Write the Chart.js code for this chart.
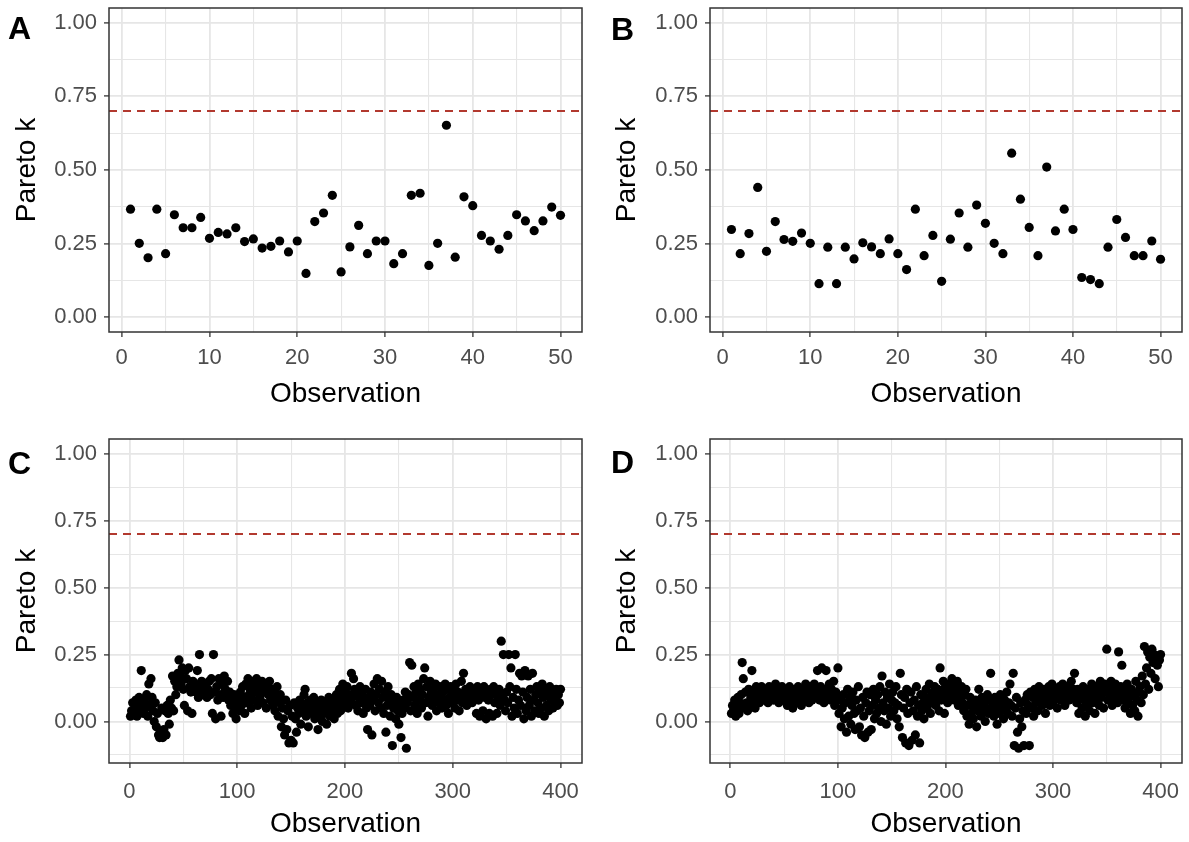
<!DOCTYPE html>
<html>
<head>
<meta charset="utf-8">
<script src="https://cdn.jsdelivr.net/npm/chart.js@4.4.0/dist/chart.umd.min.js"></script>
<style>
  body { margin: 0; background: #fff; width: 1189px; height: 842px; position: relative; overflow: hidden; font-family: "Liberation Sans", Arial, sans-serif; }
  canvas { position: absolute; }
  .tag { position: absolute; font-weight: bold; font-size: 32px; line-height: 32px; color: #000; }
</style>
</head>
<body>
<canvas id="chartA" width="595" height="421" style="left:0;top:0"></canvas>
<canvas id="chartB" width="594" height="421" style="left:595px;top:0"></canvas>
<canvas id="chartC" width="595" height="421" style="left:0;top:421px"></canvas>
<canvas id="chartD" width="594" height="421" style="left:595px;top:421px"></canvas>
<div class="tag" style="left:8px;top:12px">A</div>
<div class="tag" style="left:611px;top:13px">B</div>
<div class="tag" style="left:8px;top:447px">C</div>
<div class="tag" style="left:611px;top:446px">D</div>
<script>
// Pareto k per observation
const paretoA = [0.367, 0.251, 0.202, 0.367, 0.216, 0.348, 0.304, 0.304, 0.339, 0.268,
  0.288, 0.283, 0.304, 0.257, 0.266, 0.235, 0.241, 0.259, 0.222, 0.259,
  0.149, 0.325, 0.354, 0.414, 0.154, 0.239, 0.312, 0.216, 0.259, 0.259,
  0.182, 0.216, 0.414, 0.421, 0.176, 0.251, 0.652, 0.204, 0.409, 0.379,
  0.278, 0.259, 0.231, 0.278, 0.348, 0.327, 0.294, 0.327, 0.374, 0.346];

const paretoB = [0.298, 0.216, 0.284, 0.441, 0.224, 0.325, 0.264, 0.258, 0.286, 0.251,
  0.114, 0.238, 0.114, 0.238, 0.198, 0.253, 0.239, 0.216, 0.266, 0.216,
  0.162, 0.367, 0.209, 0.278, 0.122, 0.265, 0.354, 0.238, 0.381, 0.319,
  0.251, 0.216, 0.557, 0.401, 0.305, 0.209, 0.510, 0.293, 0.367, 0.298,
  0.135, 0.128, 0.114, 0.238, 0.332, 0.271, 0.209, 0.209, 0.259, 0.197];

const paretoC = [
  0.02, 0.04, 0.07, 0.03, 0.05, 0.08, 0.02, 0.06, 0.09, 0.04,
  0.19, 0.07, 0.03, 0.08, 0.05, 0.10, 0.02, 0.14, 0.06, 0.16,
  0.09, 0.04, 0.00, 0.07, -0.02, 0.03, -0.05, -0.06, -0.04, 0.05,
  -0.06, -0.03, 0.04, -0.05, 0.06, 0.03, -0.01, 0.08, 0.05, 0.17,
  0.04, 0.15, 0.10, 0.13, 0.18, 0.23, 0.17, 0.14, 0.20, 0.12,
  0.06, 0.19, 0.16, 0.04, 0.20, 0.13, 0.11, 0.03, 0.15, 0.12,
  0.14, 0.11, 0.19, 0.09, 0.25, 0.12, 0.15, 0.10, 0.13, 0.11,
  0.14, 0.09, 0.12, 0.15, 0.10, 0.16, 0.03, 0.25, 0.11, 0.01,
  0.13, 0.08, 0.16, 0.10, 0.02, 0.14, 0.09, 0.17, 0.12, 0.10,
  0.15, 0.08, 0.11, 0.06, 0.09, 0.03, 0.10, 0.07, 0.01, 0.05,
  0.08, 0.04, 0.11, 0.06, 0.13, 0.09, 0.03, 0.14, 0.07, 0.16,
  0.10, 0.12, 0.05, 0.15, 0.08, 0.13, 0.11, 0.16, 0.06, 0.14,
  0.09, 0.12, 0.15, 0.07, 0.11, 0.14, 0.05, 0.13, 0.10, 0.15,
  0.08, 0.12, 0.06, 0.11, 0.04, 0.09, 0.13, 0.02, 0.07, 0.10,
  -0.02, 0.05, 0.01, -0.05, 0.08, -0.03, 0.04, -0.08, 0.06, -0.07,
  0.02, -0.08, 0.07, 0.01, -0.04, 0.05, 0.03, 0.08, -0.01, 0.06,
  0.04, 0.10, 0.12, 0.02, 0.07, -0.02, 0.05, 0.08, 0.03, 0.06,
  0.09, 0.01, 0.04, 0.07, -0.03, 0.05, 0.02, 0.08, 0.00, 0.06,
  0.03, 0.07, -0.01, 0.05, 0.09, 0.02, 0.06, 0.04, 0.08, 0.01,
  0.05, 0.10, 0.03, 0.07, 0.12, 0.04, 0.09, 0.14, 0.06, 0.11,
  0.08, 0.13, 0.05, 0.10, 0.07, 0.18, 0.09, 0.16, 0.12, 0.06,
  0.11, 0.04, 0.09, 0.13, 0.07, 0.10, 0.03, 0.08, 0.12, 0.05,
  -0.03, 0.09, 0.06, 0.11, -0.05, 0.08, 0.14, 0.04, 0.10, 0.16,
  0.07, 0.12, 0.05, 0.15, 0.09, 0.03, 0.11, -0.04, 0.06, 0.13,
  0.08, 0.02, 0.10, -0.09, 0.05, 0.07, 0.01, 0.09, 0.04, -0.01,
  0.06, -0.06, 0.03, 0.08, 0.05, 0.11, -0.10, 0.07, 0.10, 0.22,
  0.04, 0.21, 0.09, 0.13, 0.06, 0.11, 0.03, 0.14, 0.08, 0.12,
  0.05, 0.10, 0.16, 0.20, 0.07, 0.13, 0.02, 0.09, 0.15, 0.11,
  0.06, 0.12, 0.08, 0.14, 0.04, 0.10, 0.07, 0.13, 0.09, 0.05,
  0.11, 0.08, 0.14, 0.06, 0.12, 0.03, 0.09, 0.13, 0.07, 0.10,
  0.12, 0.05, 0.14, 0.08, 0.11, 0.04, 0.10, 0.15, 0.07, 0.18,
  0.09, 0.12, 0.06, 0.11, 0.08, 0.13, 0.10, 0.07, 0.12, 0.09,
  0.11, 0.03, 0.13, 0.08, 0.02, 0.12, 0.10, 0.04, 0.13, 0.09,
  0.01, 0.11, 0.08, 0.03, 0.12, 0.10, 0.02, 0.13, 0.07, 0.11,
  0.03, 0.09, 0.12, 0.06, 0.30, 0.10, 0.25, 0.08, 0.04, 0.11,
  0.07, 0.25, 0.13, 0.20, 0.02, 0.09, 0.05, 0.25, 0.12, 0.03,
  0.08, 0.18, 0.06, 0.17, 0.11, 0.01, 0.19, 0.04, 0.09, 0.17,
  0.06, 0.12, 0.02, 0.18, 0.08, 0.04, 0.10, 0.13, 0.07, 0.03,
  0.11, 0.05, 0.14, 0.09, 0.02, 0.12, 0.06, 0.10, 0.04, 0.13,
  0.08, 0.11, 0.05, 0.09, 0.07, 0.12, 0.06, 0.10, 0.07, 0.12];

const paretoD = [
  0.03, 0.06, 0.04, 0.08, 0.02, 0.05, 0.09, 0.03, 0.07, 0.10,
  0.22, 0.16, 0.05, 0.11, 0.07, 0.04, 0.12, 0.06, 0.09, 0.19,
  0.08, 0.11, 0.05, 0.13, 0.09, 0.12, 0.07, 0.10, 0.13, 0.08,
  0.11, 0.09, 0.12, 0.10, 0.07, 0.13, 0.11, 0.09, 0.12, 0.08,
  0.10, 0.14, 0.09, 0.11, 0.07, 0.12, 0.10, 0.13, 0.08, 0.11,
  0.09, 0.12, 0.06, 0.10, 0.13, 0.08, 0.11, 0.05, 0.09, 0.12,
  0.10, 0.07, 0.13, 0.09, 0.11, 0.06, 0.12, 0.08, 0.10, 0.14,
  0.09, 0.12, 0.07, 0.11, 0.13, 0.08, 0.10, 0.14, 0.09, 0.12,
  0.19, 0.11, 0.08, 0.13, 0.20, 0.10, 0.07, 0.12, 0.19, 0.09,
  0.11, 0.14, 0.08, 0.12, 0.10, 0.15, 0.06, 0.11, 0.09, 0.20,
  0.03, 0.08, -0.02, 0.05, 0.10, 0.01, 0.07, -0.04, 0.12, 0.02,
  0.09, -0.01, 0.06, 0.11, 0.03, -0.03, 0.08, 0.04, 0.13, -0.02,
  0.05, -0.05, 0.09, 0.02, -0.06, 0.07, 0.11, -0.04, 0.04, 0.10,
  -0.03, 0.06, 0.12, 0.01, 0.08, 0.03, 0.10, 0.05, 0.13, 0.00,
  0.17, 0.07, 0.04, 0.11, -0.01, 0.09, 0.05, 0.14, 0.02, 0.08,
  0.11, 0.04, 0.07, 0.13, 0.01, 0.06, -0.02, 0.18, 0.10, -0.06,
  0.05, 0.09, -0.08, 0.12, 0.03, -0.09, 0.07, 0.11, -0.07, 0.04,
  0.08, -0.05, 0.13, 0.02, 0.06, -0.08, 0.10, 0.04, 0.07, 0.01,
  0.09, 0.12, 0.05, 0.08, 0.14, 0.03, 0.10, 0.07, 0.11, 0.13,
  0.06, 0.09, 0.12, 0.04, 0.20, 0.08, 0.11, 0.15, 0.03, 0.13,
  0.10, 0.07, 0.14, 0.11, 0.09, 0.16, 0.12, 0.08, 0.13, 0.10,
  0.15, 0.06, 0.11, 0.09, 0.13, 0.07, 0.04, 0.10, 0.12, 0.02,
  0.06, -0.01, 0.09, 0.03, 0.07, 0.01, 0.05, 0.08, -0.02, 0.04,
  0.12, 0.06, 0.02, 0.09, 0.04, 0.07, 0.00, 0.05, 0.10, 0.03,
  0.08, 0.18, 0.04, 0.06, 0.02, 0.09, 0.05, -0.01, 0.07, 0.03,
  0.10, 0.04, 0.06, 0.01, 0.08, 0.05, 0.11, 0.03, 0.07, 0.14,
  0.06, 0.02, 0.18, -0.09, 0.05, 0.09, -0.04, -0.10, 0.01, 0.07,
  -0.02, 0.04, -0.09, 0.08, 0.03, 0.10, 0.06, -0.09, 0.11, 0.05,
  0.09, 0.02, 0.12, 0.07, 0.10, 0.04, 0.13, 0.08, 0.11, 0.06,
  0.12, 0.09, 0.03, 0.11, 0.08, 0.13, 0.06, 0.10, 0.14, 0.07,
  0.11, 0.09, 0.12, 0.05, 0.10, 0.13, 0.08, 0.11, 0.14, 0.09,
  0.06, 0.12, 0.10, 0.13, 0.08, 0.11, 0.15, 0.09, 0.12, 0.18,
  0.10, 0.07, 0.12, 0.03, 0.09, 0.11, 0.05, 0.13, 0.08, 0.02,
  0.10, 0.06, 0.12, 0.04, 0.09, 0.14, 0.07, 0.11, 0.03, 0.08,
  0.13, 0.10, 0.06, 0.15, 0.09, 0.12, 0.05, 0.14, 0.11, 0.27,
  0.08, 0.13, 0.10, 0.15, 0.06, 0.12, 0.09, 0.14, 0.11, 0.07,
  0.26, 0.10, 0.13, 0.21, 0.08, 0.12, 0.05, 0.11, 0.14, 0.07,
  0.09, 0.03, 0.12, 0.06, 0.10, 0.04, 0.15, 0.08, 0.02, 0.11,
  0.13, 0.07, 0.17, 0.10, 0.28, 0.14, 0.20, 0.26, 0.12, 0.24,
  0.18, 0.27, 0.22, 0.25, 0.16, 0.24, 0.21, 0.13, 0.23, 0.25];

const threshold = 0.7;

const yMajor = [0, 0.25, 0.5, 0.75, 1];
const yMinor = [-0.125, 0.125, 0.375, 0.625, 0.875];
const yLabels = ["0.00", "0.25", "0.50", "0.75", "1.00"];
const xMajorSmall = [0, 10, 20, 30, 40, 50];
const xMinorSmall = [5, 15, 25, 35, 45];
const xMajorLarge = [0, 100, 200, 300, 400];
const xMinorLarge = [50, 150, 250, 350];

Chart.defaults.font.family = "'Liberation Sans', Arial, sans-serif";
Chart.defaults.animation = false;

const panelBorder = {
  id: "panelBorder",
  afterDraw(chart) {
    const { ctx, chartArea: a } = chart;
    ctx.save();
    ctx.strokeStyle = "#333333";
    ctx.lineWidth = 1.5;
    ctx.strokeRect(a.left, a.top, a.right - a.left, a.bottom - a.top);
    ctx.restore();
  }
};

function gridStyle(major) {
  const isMajor = v => major.some(m => Math.abs(m - v) < 1e-9);
  return {
    color: "#E6E6E6",
    lineWidth: ctx => (ctx.tick && isMajor(ctx.tick.value) ? 1.8 : 1.1),
    tickColor: ctx => (ctx.tick && isMajor(ctx.tick.value) ? "#333333" : "rgba(0,0,0,0)"),
    tickWidth: ctx => (ctx.tick && isMajor(ctx.tick.value) ? 1.3 : 0),
    tickLength: 5,
  };
}

function makeChart(id, values, cfg) {
  const canvas = document.getElementById(id);
  const n = values.length;
  const xMin = 1 - 0.05 * (n - 1);
  const xMax = n + 0.05 * (n - 1);
  const lo = Math.min(0, ...values);
  const hi = 1;
  const yMin = lo - 0.05 * (hi - lo);
  const yMax = hi + 0.05 * (hi - lo);
  const p = cfg.plot;
  const yTicks = yMajor.concat(yMinor).filter(v => v >= yMin && v <= yMax).sort((a, b) => a - b);
  const xTicks = cfg.xMajor.concat(cfg.xMinor).sort((a, b) => a - b);

  return new Chart(canvas, {
    type: "scatter",
    data: {
      datasets: [
        {
          type: "line",
          data: [{ x: xMin, y: threshold }, { x: xMax, y: threshold }],
          borderColor: "#B2392F",
          borderWidth: 2,
          borderDash: [8, 6],
          pointRadius: 0,
          fill: false,
        },
        {
          data: values.map((k, i) => ({ x: i + 1, y: k })),
          backgroundColor: "#000000",
          pointRadius: 4.6,
          pointBorderWidth: 0,
          pointHoverRadius: 4.6,
        },
      ],
    },
    options: {
      responsive: false,
      devicePixelRatio: 1,
      layout: { padding: { left: 0, top: p.top, right: canvas.width - p.right, bottom: 0 } },
      plugins: { legend: { display: false }, tooltip: { enabled: false } },
      scales: {
        x: {
          type: "linear",
          min: xMin,
          max: xMax,
          grid: gridStyle(cfg.xMajor),
          border: { display: false },
          ticks: {
            color: "#4D4D4D",
            font: { size: 22 },
            padding: cfg.xTickPad,
            maxRotation: 0,
            callback: v => (cfg.xMajor.includes(v) ? String(v) : ""),
          },
          afterBuildTicks: s => { s.ticks = xTicks.map(v => ({ value: v })); },
          afterFit: s => {
            s.height = canvas.height - p.bottom;
            s.paddingLeft = 0; s.paddingRight = 0;
          },
          title: {
            display: true,
            text: "Observation",
            color: "#000000",
            font: { size: 28 },
            padding: { top: 0, bottom: cfg.xTitlePad },
          },
        },
        y: {
          type: "linear",
          min: yMin,
          max: yMax,
          grid: gridStyle(yMajor),
          border: { display: false },
          ticks: {
            color: "#4D4D4D",
            font: { size: 22 },
            padding: 7,
            callback: v => {
              const i = yMajor.findIndex(m => Math.abs(m - v) < 1e-9);
              return i >= 0 ? yLabels[i] : "";
            },
          },
          afterBuildTicks: s => { s.ticks = yTicks.map(v => ({ value: v })); },
          afterFit: s => {
            s.width = p.left;
            s.paddingTop = 0; s.paddingBottom = 0;
          },
          title: {
            display: true,
            text: "Pareto k",
            color: "#000000",
            font: { size: 28 },
            padding: { top: cfg.yTitlePad, bottom: 0 },
          },
        },
      },
    },
    plugins: [panelBorder],
  });
}

makeChart("chartA", paretoA, {
  plot: { left: 109, top: 8, right: 582, bottom: 332 },
  xMajor: xMajorSmall, xMinor: xMinorSmall, xTickPad: 7.5, xTitlePad: 9.7, yTitlePad: 10.5,
});
makeChart("chartB", paretoB, {
  plot: { left: 115, top: 8, right: 587, bottom: 332 },
  xMajor: xMajorSmall, xMinor: xMinorSmall, xTickPad: 7.5, xTitlePad: 9.7, yTitlePad: 15.7,
});
makeChart("chartC", paretoC, {
  plot: { left: 109, top: 18, right: 582, bottom: 342 },
  xMajor: xMajorLarge, xMinor: xMinorLarge, xTickPad: 11, xTitlePad: 0.7, yTitlePad: 10.5,
});
makeChart("chartD", paretoD, {
  plot: { left: 115, top: 18, right: 587, bottom: 342 },
  xMajor: xMajorLarge, xMinor: xMinorLarge, xTickPad: 11, xTitlePad: 0.7, yTitlePad: 15.7,
});
</script>
</body>
</html>
